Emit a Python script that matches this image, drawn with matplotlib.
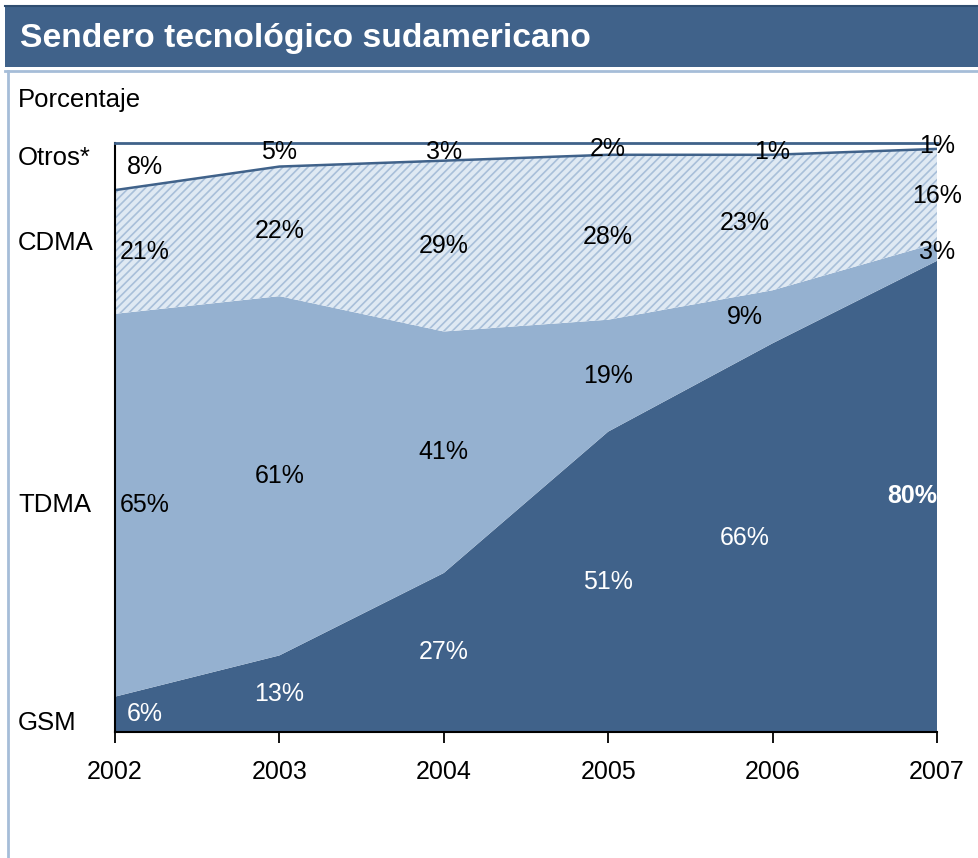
import matplotlib
matplotlib.use("Agg")
import matplotlib.pyplot as plt
from matplotlib.patches import Rectangle
from matplotlib.lines import Line2D
import numpy as np

plt.rcParams['font.family'] = ['Liberation Sans', 'DejaVu Sans']
plt.rcParams['hatch.linewidth'] = 1.2

years = [2002, 2003, 2004, 2005, 2006, 2007]
series_names = ["GSM", "TDMA", "CDMA", "Otros*"]
gsm = [6, 13, 27, 51, 66, 80]
tdma = [65, 61, 41, 19, 9, 3]
cdma = [21, 22, 29, 28, 23, 16]
otros = [8, 5, 3, 2, 1, 1]

title = "Sendero tecnológico sudamericano"
ylabel = "Porcentaje"

DARK = "#40628A"
LIGHT = "#95B1D0"
HATCH_BG = "#DFE9F3"
HATCH_FG = "#A8BFD9"
PALE = "#A6BDD8"

W, H = 979, 858
fig = plt.figure(figsize=(W / 100, H / 100), dpi=100)

# title bar
fig.add_artist(Rectangle((5 / W, 1 - 67 / H), 1, 61 / H, transform=fig.transFigure,
                         facecolor=DARK, edgecolor="none"))
fig.add_artist(Line2D([5 / W, 1], [1 - 6 / H, 1 - 6 / H], transform=fig.transFigure,
                      color="#2F4D70", lw=1.5))
fig.text(20 / W, 1 - 38 / H, title, color="white", fontsize=24.2, fontweight="bold",
         va="center", ha="left")
fig.add_artist(Line2D([5 / W, 1], [1 - 71 / H, 1 - 71 / H], transform=fig.transFigure,
                      color=PALE, lw=2))
fig.add_artist(Line2D([8 / W, 8 / W], [0, 1 - 71 / H], transform=fig.transFigure,
                      color=PALE, lw=2))
fig.text(18 / W, 1 - 100 / H, ylabel, fontsize=18.5, va="center", ha="left")

ax = fig.add_axes([115 / W, 1 - 732 / H, (937 - 115) / W, (732 - 143) / H])
x = np.array(years, dtype=float)
g = np.array(gsm, float)
t = np.array(tdma, float)
c = np.array(cdma, float)
o = np.array(otros, float)
c1 = g
c2 = g + t
c3 = g + t + c

ax.fill_between(x, 0, c1, facecolor=DARK, edgecolor="none", lw=0)
ax.fill_between(x, c1, c2, facecolor=LIGHT, edgecolor="none", lw=0)
ax.fill_between(x, c2, c3, facecolor=HATCH_BG, edgecolor=HATCH_FG, hatch="////", lw=0)
ax.fill_between(x, c3, 100, facecolor="white", edgecolor="none", lw=0)
ax.plot(x, c3, color=DARK, lw=1.8)

ax.set_xlim(years[0], years[-1])
ax.set_ylim(0, 100)
ax.set_yticks([])
ax.set_xticks(years)
ax.set_xticklabels([str(y) for y in years], fontsize=18)
ax.tick_params(axis="x", direction="out", length=8, width=1.3, pad=12)
for s in ["left", "bottom"]:
    ax.spines[s].set_color("black")
    ax.spines[s].set_linewidth(1.5)
ax.spines["top"].set_color(DARK)
ax.spines["top"].set_linewidth(2)
ax.spines["right"].set_visible(False)

dx = [0.18, 0, 0, 0, -0.17, 0]
fs = 18
for i, yr in enumerate(years):
    xi = yr + dx[i]
    # GSM
    if i == len(years) - 1:
        ax.text(yr, c1[i] / 2, f"{gsm[i]}%", color="white", fontsize=fs, fontweight="bold",
                ha="right", va="center")
    else:
        ax.text(xi, c1[i] / 2, f"{gsm[i]}%", color="white", fontsize=fs, ha="center", va="center")
    ax.text(xi, (c1[i] + c2[i]) / 2, f"{tdma[i]}%", color="black", fontsize=fs, ha="center", va="center")
    ax.text(xi, (c2[i] + c3[i]) / 2, f"{cdma[i]}%", color="black", fontsize=fs, ha="center", va="center")
    xo = yr if i == 4 else xi
    ax.text(xo, c3[i] + o[i] / 2, f"{otros[i]}%", color="black", fontsize=fs,
            ha="center", va="center", clip_on=False)

# row labels at the left
row_y = [c1[0] / 2 - 1.5, (c1[0] + c2[0]) / 2, (c2[0] + c3[0]) / 2 + 1.5, 97.5]
for name, yv in zip(series_names, row_y):
    ax.annotate(name, xy=(0, yv), xycoords=("axes fraction", "data"),
                xytext=(-97, 0), textcoords="offset pixels", fontsize=18.5,
                ha="left", va="center")

fig.savefig("out.png", dpi=100)
